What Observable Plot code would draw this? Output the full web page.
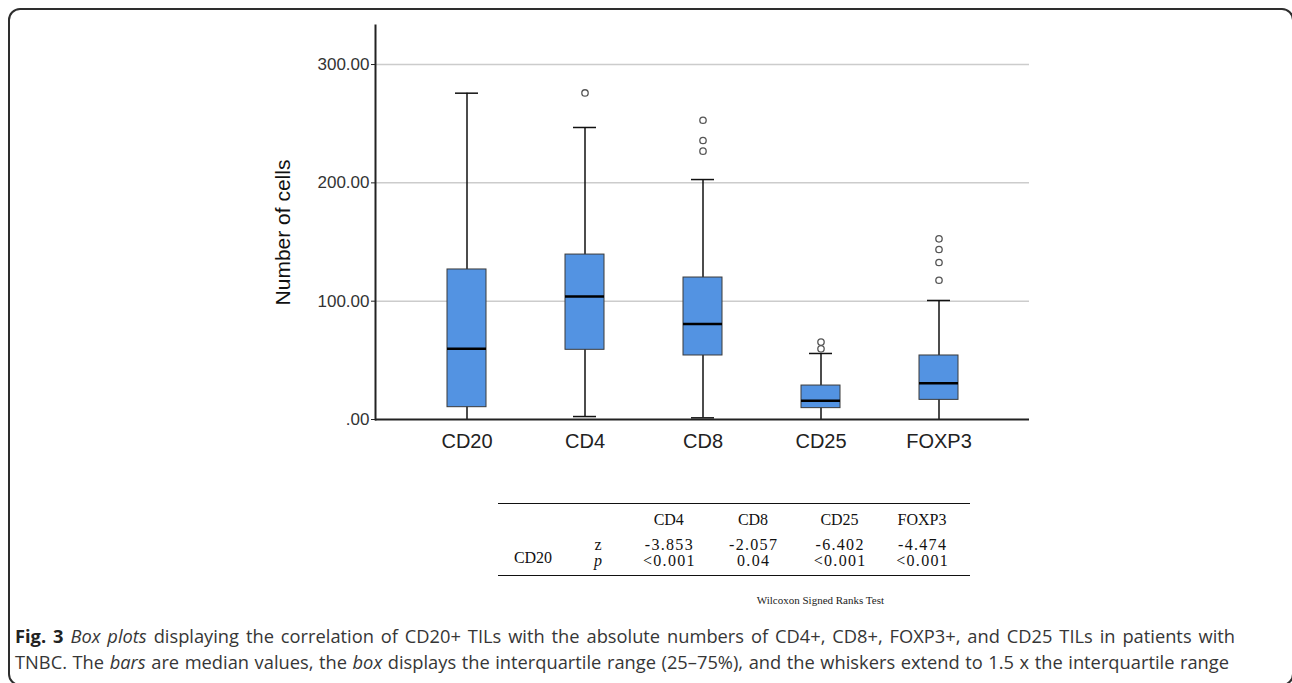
<!DOCTYPE html>
<html>
<head>
<meta charset="utf-8">
<script src="https://cdn.jsdelivr.net/npm/d3@7"></script>
<script src="https://cdn.jsdelivr.net/npm/@observablehq/plot@0.6"></script>
<style>
  html, body { margin: 0; padding: 0; background: #fff; }
  body { width: 1292px; height: 683px; overflow: hidden; position: relative; font-family: "Liberation Sans", Arial, sans-serif; }
  #frame { position: absolute; left: 8px; top: 8px; width: 1282px; height: 674px; border: 2px solid #2e2e2e; border-radius: 12px; box-sizing: content-box; }
  #chart { position: absolute; left: 0; top: 0; }
  #stats { position: absolute; left: 498px; top: 503px; border-collapse: collapse; font-family: "Liberation Serif", "Times New Roman", serif; font-size: 16px; color: #111; }
  #stats { border-top: 1px solid #111; border-bottom: 1.5px solid #111; }
  #stats td { padding: 0; text-align: center; line-height: 16px; white-space: nowrap; }
  #stats td.n { letter-spacing: 1.3px; text-indent: 1.3px; }
  #stats tr.h td { padding-top: 8px; }
  #stats tr.z td.v { padding-top: 9px; }
  #stats tr.p td { padding-bottom: 6px; }
  #note { position: absolute; left: 0; width: 884px; top: 594px; text-align: right; font-family: "Liberation Serif", "Times New Roman", serif; font-size: 11px; color: #222; white-space: nowrap; }
  #caption { position: absolute; left: 15px; top: 623px; font-family: "Open Sans", Lato, sans-serif; font-size: 18.3px; line-height: 26px; color: #363636; white-space: nowrap; }
  #caption div span { display: inline-block; }
  #caption b { color: #222; }
</style>
</head>
<body>
<div id="frame"></div>
<div id="chart"></div>
<table id="stats">
  <colgroup>
    <col style="width:70px"><col style="width:60px"><col style="width:81.5px"><col style="width:87px"><col style="width:86px"><col style="width:87.5px">
  </colgroup>
  <tbody></tbody>
</table>
<div id="note"></div>
<div id="caption"></div>
<script>
// ---- chart data ----
const categories  = ["CD20", "CD4", "CD8", "CD25", "FOXP3"];
const whiskerLow  = [0, 2.5, 1.4, 0, 0];
const q1          = [10.4, 58.9, 54.1, 9.6, 16.6];
const median      = [59.7, 103.9, 80.8, 15.8, 30.7];
const q3          = [126.8, 139.4, 120.0, 28.7, 54.1];
const whiskerHigh = [275.8, 246.8, 202.8, 55.8, 100.6];
const outlierCategories = ["CD4", "CD8", "CD8", "CD8", "CD25", "CD25", "FOXP3", "FOXP3", "FOXP3", "FOXP3"];
const outlierValues     = [276.0, 252.9, 235.8, 226.8, 65.4, 59.7, 152.7, 143.7, 132.7, 117.7];
const yTicks = [0, 100, 200, 300];
const yLabel = "Number of cells";

// ---- table data ----
const tableRowLabel = "CD20";
const tableColumns = ["CD4", "CD8", "CD25", "FOXP3"];
const zValues = ["-3.853", "-2.057", "-6.402", "-4.474"];
const pValues = ["<0.001", "0.04", "<0.001", "<0.001"];
const tableNote = "Wilcoxon Signed Ranks Test";

const captionLines = [
  '<b>Fig. 3</b> <i>Box plots</i> displaying the correlation of CD20+ TILs with the absolute numbers of CD4+, CD8+, FOXP3+, and CD25 TILs in patients with',
  'TNBC. The <i>bars</i> are median values, the <i>box</i> displays the interquartile range (25–75%), and the whiskers extend to 1.5 x the interquartile range'
];
const captionLineWidths = [1220, 1214];

const boxes = categories.map((c, i) => ({cat: c, lo: whiskerLow[i], q1: q1[i], med: median[i], q3: q3[i], hi: whiskerHigh[i]}));
const outliers = outlierCategories.map((c, i) => ({cat: c, v: outlierValues[i]}));
const lowCaps = boxes.filter(d => d.lo > 0);

const chart = Plot.plot({
  width: 1292,
  height: 460,
  marginTop: 25,
  marginBottom: 41,
  marginLeft: 375,
  marginRight: 263,
  style: {fontFamily: "'Liberation Sans', Arial, sans-serif", background: "transparent", color: "#222"},
  x: {domain: categories, paddingInner: 0.672, paddingOuter: 0.606, label: null},
  y: {domain: [0, 333], label: null},
  marks: [
    Plot.gridY(yTicks.filter(d => d > 0), {stroke: "#cccccc", strokeOpacity: 1, strokeWidth: 1.5}),
    Plot.ruleX(boxes, {x: "cat", y1: "lo", y2: "hi", stroke: "#111", strokeWidth: 1.5}),
    Plot.tickY(boxes, {x: "cat", y: "hi", insetLeft: 8, insetRight: 8, stroke: "#111", strokeWidth: 1.5}),
    Plot.tickY(lowCaps, {x: "cat", y: "lo", insetLeft: 8, insetRight: 8, stroke: "#111", strokeWidth: 1.5}),
    Plot.barY(boxes, {x: "cat", y1: "q1", y2: "q3", fill: "#5393e2", stroke: "#3a3a3a", strokeWidth: 1}),
    Plot.tickY(boxes, {x: "cat", y: "med", stroke: "#000", strokeWidth: 2.5}),
    Plot.dot(outliers, {x: "cat", y: "v", r: 3.2, stroke: "#555", strokeWidth: 1.3, fill: "white"}),
    Plot.ruleY([0], {stroke: "#222", strokeWidth: 2}),
    Plot.frame({anchor: "left", stroke: "#222", strokeWidth: 2}),
    Plot.axisY(yTicks, {tickFormat: d => d === 0 ? ".00" : d.toFixed(2), tickSize: 4, tickPadding: 2, fontSize: 17, label: null, stroke: "#222", color: "#333"}),
    Plot.axisX({tickSize: 0, tickPadding: 14, fontSize: 20, label: null, color: "#222"}),
    Plot.text([yLabel], {frameAnchor: "left", textAnchor: "middle", lineAnchor: "middle", rotate: -90, dx: -92, dy: 10, fontSize: 21, fill: "#111"})
  ]
});
document.getElementById("chart").appendChild(chart);

// ---- table ----
const tbody = document.querySelector("#stats tbody");
const esc = s => s.replace(/&/g, "&amp;").replace(/</g, "&lt;");
const pad = i => i === 3 ? ' style="padding-right:8.5px"' : '';
tbody.innerHTML =
  `<tr class="h"><td></td><td></td>${tableColumns.map((c, i) => `<td${pad(i)}>${c}</td>`).join("")}</tr>` +
  `<tr class="z"><td rowspan="2" style="vertical-align:middle;padding-top:12px">${tableRowLabel}</td><td class="v">z</td>${zValues.map((v, i) => `<td class="v n"${pad(i)}>${esc(v)}</td>`).join("")}</tr>` +
  `<tr class="p"><td><i>p</i></td>${pValues.map((v, i) => `<td class="n"${pad(i)}>${esc(v)}</td>`).join("")}</tr>`;
document.getElementById("note").textContent = tableNote;

// ---- caption, each line spread to the width it has in the reference ----
const cap = document.getElementById("caption");
captionLines.forEach((html, i) => {
  const line = document.createElement("div");
  const span = document.createElement("span");
  span.innerHTML = html;
  line.appendChild(span);
  cap.appendChild(line);
  const w = span.getBoundingClientRect().width;
  const spaces = (span.textContent.match(/ /g) || []).length;
  if (spaces > 0) span.style.wordSpacing = ((captionLineWidths[i] - w) / spaces) + "px";
});
</script>
</body>
</html>
